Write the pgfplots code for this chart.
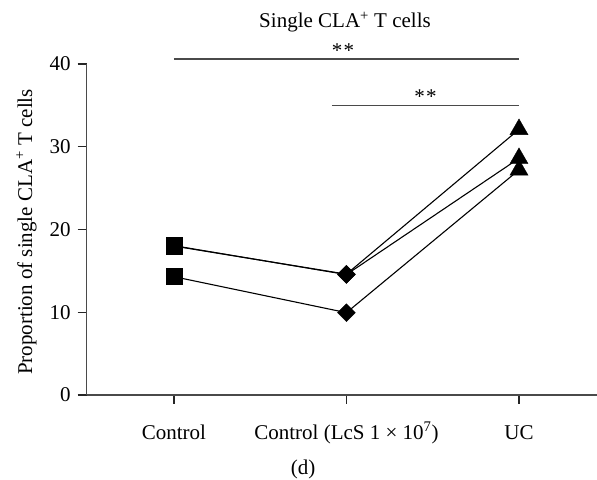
\documentclass[border=0pt]{standalone}
\usepackage{fontspec}
\setmainfont{Liberation Serif}
\usepackage{pgfplots}
\pgfplotsset{compat=1.18}
\definecolor{axisgray}{HTML}{4A4A4A}
\begin{document}
\fontsize{21bp}{25bp}\selectfont
\begin{tikzpicture}
\path[use as bounding box] (0,0) rectangle (597bp,480bp);
\begin{axis}[
  at={(86.7bp,85bp)}, anchor=south west,
  scale only axis, width=510.3bp, height=331bp,
  xmin=-0.505, xmax=2.452, ymin=0, ymax=40,
  axis x line*=bottom, axis y line*=left,
  axis line style={axisgray, line width=1.4bp},
  tick style={black!85, line width=1.3bp},
  tick align=outside, major tick length=9bp,
  xtick={0,1,2},
  xticklabels={Control, Control (LcS 1 × 10\textsuperscript{7}), UC},
  ytick={0,10,20,30,40},
  minor tick num=0,
  /pgf/number format/assume math mode=true,
  tick label style={font=\fontsize{21bp}{25bp}\selectfont, text=black},
  xticklabel style={text height=16bp, text depth=5bp, yshift=-12bp},
  clip=false,
]
% individual series (lines)
\addplot[black, line width=1.1bp] coordinates {(0,18.0) (1,14.6) (2,32.1)};
\addplot[black, line width=1.1bp] coordinates {(0,18.05) (1,14.55) (2,28.6)};
\addplot[black, line width=1.1bp] coordinates {(0,14.3) (1,9.95) (2,27.2)};
% markers
\addplot[only marks, mark=square*, mark size=8bp, black] coordinates {(0,18.0) (0,18.05) (0,14.3)};
\addplot[only marks, mark=square*, mark size=6.3bp, mark options={rotate=45}, black] coordinates {(1,14.6) (1,14.55) (1,9.95)};
\addplot[only marks, mark=triangle*, mark size=10.4bp, black] coordinates {(2,32.1) (2,28.6) (2,27.2)};
% significance bars
\addplot[axisgray, line width=1.4bp] coordinates {(0,40.6) (2,40.6)};
\addplot[axisgray, line width=1.4bp] coordinates {(0.915,35.0) (2,35.0)};
\node[anchor=base] at (axis cs:0.98,40.75) {*\kern1.2bp*};
\node[anchor=base] at (axis cs:1.458,35.25) {*\kern1.2bp*};
\end{axis}
\node[anchor=base] at (345bp,452bp) {Single CLA\textsuperscript{+} T cells};
\node[rotate=90, anchor=base] at (32bp,248bp) {Proportion of single CLA\textsuperscript{+} T cells};
\node[anchor=base] at (303bp,6bp) {(d)};
\end{tikzpicture}
\end{document}
